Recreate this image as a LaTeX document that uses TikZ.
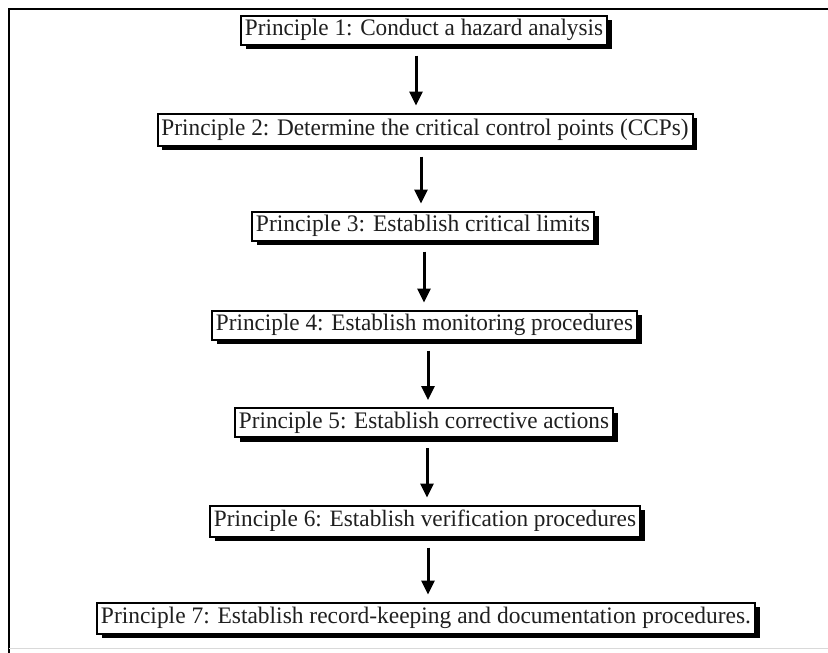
\documentclass[tikz,border=0pt]{standalone}
\usepackage{fontspec}
\usepackage{graphicx}
\setmainfont{Liberation Serif}
\usetikzlibrary{arrows.meta,shadows,calc}
\newcommand\fitx[2]{\resizebox*{#1}{21.5pt}{#2}}
\begin{document}
\begin{tikzpicture}[x=1pt,y=-1pt,
  pbox/.style={draw=black, line width=2pt, fill=white, inner sep=0pt, minimum height=29pt,
    font=\fontsize{19.5}{20}\selectfont, text=black!88,
    drop shadow={shadow xshift=4.5pt, shadow yshift=-4.5pt, fill=black, opacity=1}},
  flow/.style={line width=3pt, -{Triangle[width=13pt,length=14pt]}, shorten <=10pt, shorten >=7pt}]
\useasboundingbox (0,0) rectangle (828,653);
\fill[white] (0,0) rectangle (828,653);
\draw[line width=2pt] (9,653) -- (9,9) -- (828,9);
\draw[black!15, line width=0.8pt] (9,648) -- (828,648);
\node[pbox, minimum width=366pt] (p1) at (424,30) {\fitx{358pt}{Principle 1: Conduct a hazard analysis}};
\node[pbox, minimum width=535pt, minimum height=32pt] (p2) at (425,129.5) {\fitx{527pt}{Principle 2: Determine the critical control points (CCPs)}};
\node[pbox, minimum width=342pt] (p3) at (423,226) {\fitx{334pt}{Principle 3: Establish critical limits}};
\node[pbox, minimum width=425pt] (p4) at (424.5,325) {\fitx{417pt}{Principle 4: Establish monitoring procedures}};
\node[pbox, minimum width=378pt] (p5) at (424,422.5) {\fitx{370pt}{Principle 5: Establish corrective actions}};
\node[pbox, minimum width=430pt, minimum height=31pt] (p6) at (425,521) {\fitx{422pt}{Principle 6: Establish verification procedures}};
\node[pbox, minimum width=658pt, minimum height=31pt] (p7) at (426,618) {\fitx{650pt}{Principle 7: Establish record-keeping and documentation procedures.}};
\draw[flow] ($(p1.south)+(-8,0)$) -- ($(p2.north)+(-9,0)$);
\draw[flow] ($(p2.south)+(-4,0)$) -- ($(p3.north)+(-2,0)$);
\draw[flow] ($(p3.south)+(1,0)$) -- ($(p4.north)+(-0.5,0)$);
\draw[flow] ($(p4.south)+(3.5,0)$) -- ($(p5.north)+(4,0)$);
\draw[flow] ($(p5.south)+(3,0)$) -- ($(p6.north)+(2,0)$);
\draw[flow] ($(p6.south)+(3,0)$) -- ($(p7.north)+(2,0)$);
\end{tikzpicture}
\end{document}
